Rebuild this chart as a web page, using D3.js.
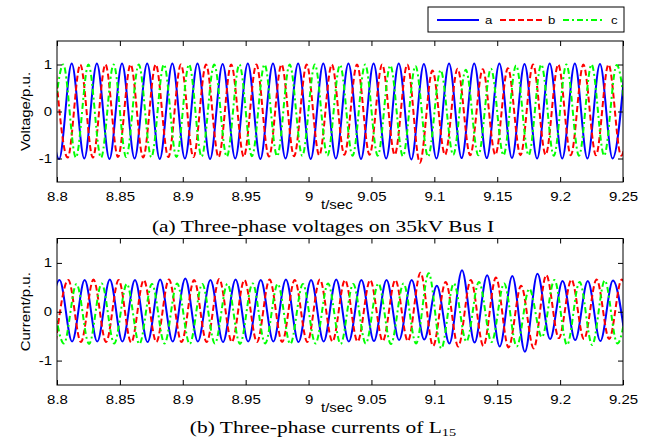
<!DOCTYPE html>
<html>
<head>
<meta charset="utf-8">
<script src="https://cdn.jsdelivr.net/npm/d3@7"></script>
<style>
body { margin: 0; background: #fff; }
text { font-family: "Liberation Sans", Arial, sans-serif; fill: #000; }
</style>
</head>
<body>
<script>
var width = 651;
var height = 445;

// tick values and labels
var xTicks = [8.8, 8.85, 8.9, 8.95, 9.0, 9.05, 9.1, 9.15, 9.2, 9.25];
var xTickLabels = ["8.8", "8.85", "8.9", "8.95", "9", "9.05", "9.1", "9.15", "9.2", "9.25"];
var yTicks = [-1, 0, 1];
var yTickLabels = ["-1", "0", "1"];
var phaseNames = ["a", "b", "c"];

// wave extrema: one peak or trough every half cycle (50 Hz)
var halfCycle = 0.01;

// (a) bus voltages, p.u. - time of the first extremum of each phase
var voltStart = [8.7917, 8.7985, 8.795];
var voltA = [1.0, -1.01, 1.02, -1.0, 1.02, -1.01, 1.02, -1.0, 1.02, -1.01,
             1.02, -1.0, 1.02, -1.01, 1.01, -1.0, 1.02, -1.01, 1.02, -1.0,
             1.02, -1.01, 1.02, -1.0, 1.02, -1.01, 1.02, -1.0, 1.02, -1.02,
             1.01, -1.0, 1.02, -0.99, 1.02, -0.99, 1.02, -0.99, 1.01, -1.0,
             1.02, -1.0, 1.02, -1.0, 1.01, -1.0, 1.0];
var voltB = [1.0, -0.98, 1.0, -0.98, 1.0, -0.97, 1.0, -0.98, 1.0, -0.97,
             1.0, -0.97, 1.0, -0.97, 1.0, -0.96, 1.0, -0.96, 1.0, -0.95,
             1.0, -0.93, 1.0, -0.92, 1.0, -0.92, 1.0, -0.92, 1.0, -1.09,
             0.87, -0.92, 0.91, -0.93, 0.9, -0.92, 0.92, -0.93, 1.0, -0.92,
             1.0, -0.93, 1.0, -0.93, 1.0, -0.94, 1.0];
var voltC = [-0.98, 1.0, -0.98, 1.0, -0.98, 1.0, -0.97, 1.0, -0.97, 1.0,
             -0.97, 1.0, -0.96, 1.0, -0.96, 1.0, -0.95, 1.0, -0.95, 1.0,
             -0.94, 1.0, -0.94, 0.99, -0.94, 1.0, -0.94, 0.98, -0.95, 0.97,
             -0.96, 0.88, -0.92, 0.89, -0.93, 0.91, -0.93, 0.98, -0.93, 1.0,
             -0.94, 1.0, -0.94, 1.0, -0.94, 0.99, -0.95];

// (b) line currents, p.u.
var currStart = [8.792, 8.799, 8.7955];
var currA = [-0.61, 0.65, -0.61, 0.65, -0.61, 0.66, -0.61, 0.65, -0.62, 0.66,
             -0.61, 0.68, -0.61, 0.65, -0.62, 0.66, -0.61, 0.65, -0.61, 0.66,
             -0.62, 0.65, -0.61, 0.66, -0.61, 0.65, -0.6, 0.65, -0.58, 0.65,
             -0.57, 0.53, -0.65, 0.85, -0.63, 0.75, -0.71, 0.73, -0.82, 0.78,
             -0.56, 0.63, -0.58, 0.63, -0.6, 0.64, -0.6];
var currB = [-0.62, 0.65, -0.62, 0.66, -0.62, 0.65, -0.63, 0.65, -0.62, 0.66,
             -0.62, 0.65, -0.62, 0.67, -0.62, 0.65, -0.62, 0.66, -0.62, 0.65,
             -0.62, 0.66, -0.61, 0.65, -0.61, 0.65, -0.6, 0.65, -0.6, 0.8,
             -0.7, 0.61, -0.71, 0.65, -0.7, 0.7, -0.73, 0.53, -0.75, 0.75,
             -0.54, 0.66, -0.56, 0.66, -0.56, 0.66, -0.58];
var currC = [0.57, -0.65, 0.57, -0.66, 0.58, -0.65, 0.57, -0.66, 0.57, -0.65,
             0.58, -0.66, 0.57, -0.65, 0.57, -0.66, 0.58, -0.65, 0.57, -0.66,
             0.57, -0.65, 0.58, -0.66, 0.57, -0.65, 0.58, -0.66, 0.58, -0.65,
             0.79, -0.75, 0.58, -0.61, 0.61, -0.62, 0.58, -0.71, 0.47, -0.52,
             0.65, -0.68, 0.61, -0.68, 0.64, -0.65, 0.6];

var colors = ["#0000ff", "#ff0000", "#00ff00"];
var dashes = [null, "6,3", "6,3,2,3"];
var textStretch = "scale(1.2,1)";

var svg = d3.select("body")
			.append("svg")
			.attr("width", width)
			.attr("height", height);

var left = 57, right = 623;
var x = d3.scaleLinear().domain([8.8, 9.25]).range([left, right]);

function toPoints(values, start) {
	return values.map(function(v, i) {
		return {t: start + i * halfCycle, v: v};
	});
}

function drawPanel(id, top, bottom, series, starts, yTitle, caption, captionY) {
	var y = d3.scaleLinear().domain([-1.5, 1.5]).range([bottom, top]);

	svg.append("clipPath")
		.attr("id", "clip-" + id)
		.append("rect")
			.attr("x", left)
			.attr("y", top)
			.attr("width", right - left)
			.attr("height", bottom - top);

	var line = d3.line()
		.x(function(d) { return x(d.t); })
		.y(function(d) { return y(d.v); })
		.curve(d3.curveMonotoneX);

	var plot = svg.append("g").attr("clip-path", "url(#clip-" + id + ")");
	for (var i = 0; i < series.length; i++) {
		plot.append("path")
			.attr("d", line(toPoints(series[i], starts[i])))
			.attr("fill", "none")
			.attr("stroke", colors[i])
			.attr("stroke-width", 2)
			.attr("stroke-dasharray", dashes[i]);
	}

	// axes, ticks pointing inwards
	var bottomAxis = svg.append("g")
		.attr("transform", "translate(0," + bottom + ")")
		.call(d3.axisBottom(x).tickValues(xTicks)
			.tickFormat(function(d, i) { return xTickLabels[i]; })
			.tickSizeInner(-5).tickSizeOuter(0).tickPadding(10));
	svg.append("g")
		.attr("transform", "translate(0," + top + ")")
		.call(d3.axisTop(x).tickValues(xTicks).tickFormat("")
			.tickSizeInner(-5).tickSizeOuter(0));
	var leftAxis = svg.append("g")
		.attr("transform", "translate(" + left + ",0)")
		.call(d3.axisLeft(y).tickValues(yTicks)
			.tickFormat(function(d, i) { return yTickLabels[i]; })
			.tickSizeInner(-5).tickSizeOuter(0).tickPadding(4));
	svg.append("g")
		.attr("transform", "translate(" + right + ",0)")
		.call(d3.axisRight(y).tickValues(yTicks).tickFormat("")
			.tickSizeInner(-5).tickSizeOuter(0));

	svg.selectAll(".domain").remove();
	svg.selectAll(".tick line").attr("stroke", "#000");
	[bottomAxis, leftAxis].forEach(function(a) {
		a.selectAll("text")
			.attr("font-family", "Liberation Sans, Arial, sans-serif")
			.attr("font-size", "12.5px")
			.attr("fill", "#000")
			.attr("transform", textStretch);
	});

	svg.append("rect")
		.attr("x", left)
		.attr("y", top)
		.attr("width", right - left)
		.attr("height", bottom - top)
		.attr("fill", "none")
		.attr("stroke", "#000")
		.attr("stroke-width", 1);

	svg.append("text")
		.attr("transform", "translate(30," + ((top + bottom) / 2) + ") rotate(-90) " + textStretch)
		.attr("text-anchor", "middle")
		.attr("font-size", "12.5px")
		.text(yTitle);

	svg.append("text")
		.attr("transform", "translate(321," + (bottom + 27) + ") " + textStretch)
		.attr("font-size", "12.5px")
		.text("t/sec");

	var cap = svg.append("text")
		.attr("transform", "translate(323," + captionY + ") scale(1.3,1)")
		.attr("text-anchor", "middle")
		.style("font-family", "Liberation Serif, Times New Roman, serif")
		.attr("font-size", "16.5px");
	cap.append("tspan").text(caption[0]);
	if (caption[1]) {
		cap.append("tspan").attr("font-size", "11px").attr("dy", 3).text(caption[1]);
	}
}

drawPanel("v", 41, 182, [voltA, voltB, voltC], voltStart, "Voltage/p.u.",
	["(a) Three-phase voltages on 35kV Bus I"], 232);
drawPanel("i", 238.5, 385, [currA, currB, currC], currStart, "Current/p.u.",
	["(b) Three-phase currents of L", "15"], 433);

// legend
var legend = svg.append("g");
legend.append("rect")
	.attr("x", 428).attr("y", 7)
	.attr("width", 196).attr("height", 25)
	.attr("fill", "#fff").attr("stroke", "#000");
var legendX = [437, 500, 563];
phaseNames.forEach(function(name, i) {
	legend.append("line")
		.attr("x1", legendX[i]).attr("x2", legendX[i] + 42)
		.attr("y1", 20).attr("y2", 20)
		.attr("stroke", colors[i])
		.attr("stroke-width", 2)
		.attr("stroke-dasharray", dashes[i]);
	legend.append("text")
		.attr("transform", "translate(" + (legendX[i] + 48) + ",24) " + textStretch)
		.attr("font-size", "11px")
		.text(name);
});
</script>
</body>
</html>
